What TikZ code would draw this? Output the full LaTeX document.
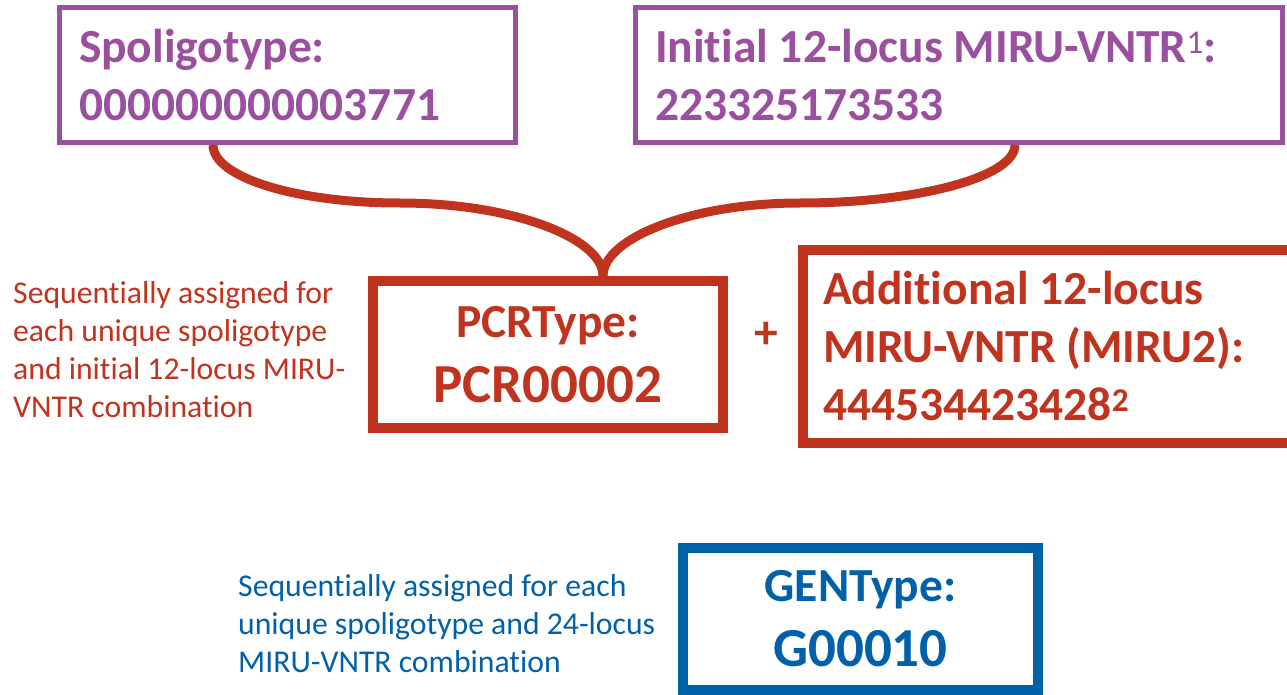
\documentclass[tikz,border=0pt]{standalone}
\usepackage{fontspec}
\setmainfont{Carlito}[Ligatures=NoCommon]
\usepackage{tikz}
\usetikzlibrary{positioning}
\definecolor{spolpurple}{HTML}{9B4F9F}
\definecolor{pcrred}{HTML}{C0331E}
\definecolor{genblue}{HTML}{0060AA}

\begin{document}
\begin{tikzpicture}[
  x=1pt,y=-1pt,
  typebox/.style={draw,inner ysep=0pt,align=flush left,
                  font=\fontsize{47.5}{58}\selectfont\bfseries},
  spolbox/.style={typebox,draw=spolpurple,text=spolpurple,line width=5pt,
                  inner xsep=19.5pt,minimum height=135pt},
  pcrbox/.style={typebox,draw=pcrred,text=pcrred,line width=10pt},
  idbox/.style={draw,line width=10pt,inner sep=0pt,align=center,
                font=\fontsize{55}{65}\selectfont\bfseries},
  sidenote/.style={inner sep=0pt,anchor=north west,align=left,
                   font=\fontsize{31.7}{38}\selectfont},
  brace/.style={pcrred,line width=9pt}
]
\useasboundingbox (0,0) rectangle (1287,695);
\clip (0,0) rectangle (1287,695);

% Input typings
\node[spolbox,text width=417pt] (spol) at (287.5,75)
  {Spoligotype:\\000000000003771};
\node[spolbox,text width=608pt] (init) at (959,75)
  {Initial 12-locus MIRU-VNTR\textsuperscript{\mdseries 1}:\\223325173533};

% PCRType and second MIRU set
\node[idbox,draw=pcrred,text=pcrred,minimum width=350pt,minimum height=147pt] (pcr) at (548,354.5)
  {{\fontsize{47.5}{58}\selectfont PCRType:}\\PCR00002};
\node[pcrbox,inner xsep=20pt,text width=480pt,minimum height=193pt] (miru2) at (1063,346.5)
  {Additional 12-locus\\MIRU-VNTR (MIRU2):\\444534423428\textsuperscript{2}};
\node[pcrred,font=\fontsize{47.5}{58}\selectfont\bfseries,inner sep=0pt] (plus) at (766,335) {+};

% GENType
\node[idbox,draw=genblue,text=genblue,minimum width=355pt,minimum height=142pt] (gen) at (860.5,619)
  {{\fontsize{47.5}{58}\selectfont GENType:}\\G00010};

% Notes
\node[sidenote,text=pcrred] (pcrnote) at (13,281)
  {Sequentially assigned for\\each unique spoligotype\\and initial 12-locus MIRU-\\VNTR combination};
\node[sidenote,text=genblue] (gennote) at (238,574)
  {Sequentially assigned for each\\unique spoligotype and 24-locus\\MIRU-VNTR combination};

% Brace
\coordinate (tip) at ([xshift=55pt]pcr.north);
\draw[brace] ([xshift=156pt]spol.south west) .. controls +(0,32) and +(-105,0) .. ++(187,58)
  .. controls +(112,0) and +(0,-38) .. (tip);
\draw[brace] ([xshift=-270pt]init.south east) .. controls +(0,32) and +(118,0) .. ++(-215,58)
  .. controls +(-108,0) and +(0,-38) .. (tip);

\end{tikzpicture}
\end{document}
